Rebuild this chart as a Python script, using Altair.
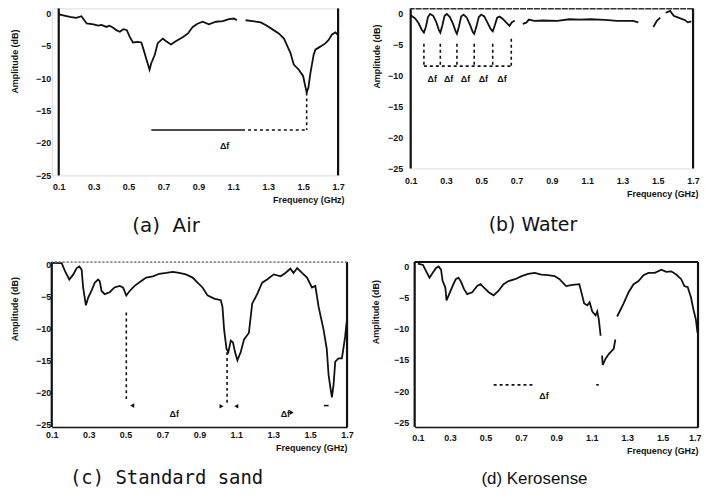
import altair as alt
import pandas as pd

# ---------------- data ----------------
x_range = [0.1, 1.7]
x_ticks = [0.1, 0.3, 0.5, 0.7, 0.9, 1.1, 1.3, 1.5, 1.7]
y_ticks = [0, -5, -10, -15, -20, -25]

air_y = [-25, 0.76]
water_y = [-25, 0.8]
sand_y = [-25.46, 0.46]
kero_y = [-25.78, 0.78]

# (frequency GHz, amplitude dB); None = gap in the trace
air = [(0.1, 0), (0.107, -0.2), (0.164, -0.56), (0.2, -0.7), (0.23, -0.45), (0.26, -1.57),
       (0.3, -1.7), (0.326, -1.9), (0.345, -1.8), (0.373, -2.1), (0.39, -1.9), (0.41, -2.2),
       (0.43, -2.6), (0.45, -2.85), (0.47, -2.45), (0.49, -2.6), (0.506, -3.6), (0.525, -4.5),
       (0.554, -4.4), (0.573, -4.5), (0.586, -5.6), (0.6, -6.9), (0.62, -8.7), (0.63, -7.7),
       (0.65, -6.4), (0.667, -4.6), (0.696, -3.9), (0.715, -4.3), (0.743, -4.8), (0.77, -4.3),
       (0.81, -3.7), (0.84, -3.1), (0.867, -2.1), (0.895, -1.6), (0.924, -1.3), (0.96, -1.7),
       (1.0, -1.3), (1.04, -1.2), (1.075, -0.9), (1.104, -0.8), (1.12, -1.07), None,
       (1.17, -1.07), (1.21, -1.2), (1.257, -1.4), (1.285, -1.8), (1.32, -2.4), (1.36, -3.1),
       (1.39, -3.9), (1.41, -5.1), (1.427, -6.1), (1.446, -7.9), (1.475, -8.7), (1.5, -9.7),
       (1.51, -11.0), (1.52, -12.2), (1.53, -11.5), (1.54, -9.45), (1.55, -7.9), (1.56, -6.4),
       (1.57, -5.6), (1.6, -5.1), (1.628, -4.6), (1.646, -4.1), (1.665, -3.25), (1.685, -2.95),
       (1.7, -3.35)]

water = [(0.1, -0.3), (0.11, -0.5), (0.125, -0.8), (0.145, -1.6), (0.162, -2.6), (0.175, -3.1),
         (0.186, -2.2), (0.198, -0.6), (0.21, -0.1), (0.228, -0.4), (0.245, -1.4), (0.26, -2.7),
         (0.268, -3.1), (0.279, -2.0), (0.292, -0.4), (0.305, -0.1), (0.322, -0.6), (0.34, -1.7),
         (0.355, -2.9), (0.362, -3.3), (0.373, -2.2), (0.386, -0.5), (0.4, -0.2), (0.418, -0.7),
         (0.437, -1.9), (0.452, -3.0), (0.46, -3.3), (0.471, -2.3), (0.486, -0.6), (0.5, -0.2),
         (0.517, -0.5), (0.535, -1.5), (0.555, -2.6), (0.565, -2.9), (0.576, -2.0), (0.59, -0.7),
         (0.604, -0.5), (0.622, -0.9), (0.642, -1.5), (0.66, -2.0), (0.675, -1.4), (0.69, -1.2),
         None, (0.735, -1.7), (0.755, -1.5), (0.77, -1.0), (0.8, -1.2), (0.85, -1.15),
         (0.93, -1.2), (1.0, -0.95), (1.06, -1.0), (1.12, -0.95), (1.2, -1.05), (1.27, -1.2),
         (1.36, -1.2), (1.39, -1.45), None, (1.475, -2.2), (1.495, -1.2), (1.514, -0.7), None,
         (1.545, 0.1), (1.57, 0.4), (1.59, -0.4), (1.617, -0.7), (1.655, -1.1), (1.67, -1.45),
         (1.69, -1.3)]

sand = [(0.102, 0.3), (0.154, 0.26), (0.172, -1.0), (0.195, -2.3), (0.217, -1.5), (0.235, -0.5),
        (0.249, -0.25), (0.262, -0.76), (0.27, -3.55), (0.285, -6.35), (0.298, -5.1),
        (0.315, -4.1), (0.333, -2.8), (0.351, -2.3), (0.36, -2.55), (0.37, -4.1), (0.387, -4.6),
        (0.414, -4.3), (0.44, -3.55), (0.468, -3.3), (0.486, -3.55), (0.504, -4.8),
        (0.522, -4.1), (0.549, -3.3), (0.585, -2.55), (0.612, -2.0), (0.648, -1.8),
        (0.683, -1.4), (0.72, -1.27), (0.756, -1.1), (0.79, -1.27), (0.827, -1.5), (0.863, -2.0),
        (0.89, -2.8), (0.917, -3.55), (0.944, -4.8), (0.98, -5.3), (1.016, -5.55), (1.025, -6.6),
        (1.034, -10.2), (1.047, -13.2), (1.057, -13.7), (1.07, -11.9), (1.082, -12.2),
        (1.093, -13.7), (1.106, -15.0), (1.124, -13.7), (1.142, -11.7), (1.168, -10.7),
        (1.186, -6.1), (1.213, -4.6), (1.24, -2.8), (1.267, -2.3), (1.303, -1.5), (1.34, -1.8),
        (1.366, -1.27), (1.393, -0.6), (1.41, -1.27), (1.43, -0.5), (1.456, -1.27), (1.483, -2.0),
        (1.51, -3.55), (1.528, -3.3), (1.546, -6.6), (1.573, -10.2), (1.59, -13.2), (1.6, -17.3),
        (1.61, -19.3), (1.618, -20.8), (1.627, -18.8), (1.636, -15.2), (1.654, -14.7),
        (1.672, -14.7), (1.68, -13.2), (1.69, -11.2), (1.698, -9.0)]

kero = [(0.118, 0.5), (0.147, 0.3), (0.165, -0.73), (0.184, -1.77), (0.202, -0.98), (0.221, -0.2),
        (0.235, 0.05), (0.249, -0.47), (0.258, -2.3), (0.273, -3.3), (0.28, -5.4), (0.295, -4.4),
        (0.314, -3.1), (0.332, -2.0), (0.347, -1.77), (0.36, -2.3), (0.379, -3.6), (0.397, -4.4),
        (0.425, -4.1), (0.453, -3.1), (0.472, -2.8), (0.49, -3.3), (0.518, -4.1), (0.546, -4.6),
        (0.574, -3.85), (0.602, -2.8), (0.63, -2.3), (0.667, -2.0), (0.704, -1.5), (0.741, -1.15),
        (0.778, -0.98), (0.815, -1.25), (0.852, -1.35), (0.89, -1.5), (0.918, -2.0), (0.955, -3.1),
        (0.992, -2.9), (1.03, -2.8), (1.044, -4.4), (1.057, -5.9), (1.075, -6.2), (1.088, -5.7),
        (1.103, -7.2), (1.122, -7.8), (1.131, -7.2), (1.14, -8.5), (1.15, -11.1), None,
        (1.158, -14.3), (1.162, -15.8), (1.178, -14.8), (1.197, -14.0), (1.224, -13.2),
        (1.233, -11.7), None, (1.243, -8.0), (1.261, -7.0), (1.28, -5.9), (1.308, -4.1),
        (1.336, -2.8), (1.364, -2.3), (1.392, -1.35), (1.42, -0.98), (1.456, -0.98),
        (1.493, -0.47), (1.52, -0.83), (1.549, -0.73), (1.577, -1.25), (1.605, -2.0),
        (1.623, -3.1), (1.642, -3.3), (1.66, -4.9), (1.675, -7.0), (1.688, -8.5), (1.697, -10.6)]

# annotation rules: (f, f2, a, a2)
air_solid = [(0.63, 1.15, -18, -18)]
air_dashed = [(1.15, 1.52, -18, -18), (1.52, 1.52, -12.2, -18)]
air_text = [(1.05, -20.4, "Δf")]

water_solid = []
water_dashed = [(0.175, 0.67, -8.5, -8.5), (0.175, 0.175, -4.9, -8.5), (0.268, 0.268, -4.9, -8.5),
                (0.362, 0.362, -4.9, -8.5), (0.46, 0.46, -4.9, -8.5), (0.565, 0.565, -4.9, -8.5),
                (0.67, 0.67, -4.1, -8.5)]
water_text = [(0.222, -10.6, "Δf"), (0.315, -10.6, "Δf"), (0.411, -10.6, "Δf"),
              (0.512, -10.6, "Δf"), (0.617, -10.6, "Δf")]

sand_solid = [(1.575, 1.6, -22.1, -22.1)]
sand_dashed = [(0.504, 0.504, -7.5, -21.5), (1.05, 1.05, -13.7, -22.1)]
sand_text = [(0.764, -23.4, "Δf"), (1.366, -23.4, "Δf")]
sand_arrows = [(0.536, -22.1, "triangle-left"), (1.02, -22.2, "triangle-right"),
               (1.1, -22.2, "triangle-left"), (1.4, -23.2, "triangle-right")]

kero_solid = [(1.125, 1.14, -19, -19)]
kero_dashed = [(0.546, 0.77, -19, -19)]
kero_text = [(0.83, -20.8, "Δf")]

# ---------------- chart ----------------
FONT = "Liberation Sans"
INK = "#111111"


def line_table(points):
    rows, seg = [], 0
    for p in points:
        if p is None:
            seg += 1
            continue
        rows.append({"f": p[0], "a": p[1], "seg": seg})
    return pd.DataFrame(rows)


def rule_table(rules):
    return pd.DataFrame(rules, columns=["f", "f2", "a", "a2"])


def panel(points, y_dom, x_dom, caption, cap_font, cap_size, width, height, label_pad, title_pad,
          title_y, x_label_pad, x_title_x, x_line, top_style, solid, dashed, texts, cap_dx,
          cap_offset, arrows=None, flush=False):
    xs = alt.Scale(domain=x_dom, nice=False, zero=False)
    ys = alt.Scale(domain=y_dom, nice=False, zero=False)
    xax = alt.Axis(values=x_ticks, format=".1f", title="Frequency (GHz)", titleAnchor="end",
                   titleAlign="right", titleX=width + x_title_x, grid=False, ticks=False,
                   domain=x_line, domainColor=INK, domainWidth=1.5, labelFont=FONT,
                   labelFontSize=9, labelFontWeight="bold", labelColor=INK,
                   labelPadding=x_label_pad, titleFont=FONT, titleFontSize=9,
                   titleFontWeight="bold", titleColor=INK, titlePadding=4, labelFlush=flush,
                   labelFlushOffset=3 if flush else 0)
    yax = alt.Axis(values=y_ticks, title="Amplitude (dB)", grid=False, ticks=False,
                   domain=False, labelFont=FONT, labelFontSize=9,
                   labelFontWeight="bold", labelColor=INK, labelPadding=label_pad,
                   titleFont=FONT, titleFontSize=9, titleFontWeight="bold", titleColor=INK,
                   titlePadding=title_pad, titleY=title_y)
    X = alt.X("f:Q", scale=xs, axis=xax)
    Y = alt.Y("a:Q", scale=ys, axis=yax)

    layers = [alt.Chart(line_table(points)).mark_line(color=INK, strokeWidth=1.8).encode(
        x=X, y=Y, detail="seg:N")]
    # left (amplitude axis line) and right frame edges at the ends of the frequency range
    layers.append(alt.Chart(pd.DataFrame({"f": x_range})).mark_rule(
        color=INK, strokeWidth=2.2).encode(x=X))
    if top_style is not None:
        layers.append(alt.Chart(pd.DataFrame({"a": [y_dom[1]]})).mark_rule(
            color=top_style[0], strokeWidth=top_style[1], strokeDash=top_style[2]).encode(y=Y))
    if solid:
        layers.append(alt.Chart(rule_table(solid)).mark_rule(color=INK, strokeWidth=1.6).encode(
            x=X, x2="f2:Q", y=Y, y2="a2:Q"))
    if dashed:
        layers.append(alt.Chart(rule_table(dashed)).mark_rule(
            color=INK, strokeWidth=1.6, strokeDash=[3, 3]).encode(x=X, x2="f2:Q", y=Y, y2="a2:Q"))
    if texts:
        layers.append(alt.Chart(pd.DataFrame(texts, columns=["f", "a", "t"])).mark_text(
            font=FONT, fontSize=9, fontWeight="bold", color=INK).encode(x=X, y=Y, text="t:N"))
    if arrows:
        layers.append(alt.Chart(pd.DataFrame(arrows, columns=["f", "a", "s"])).mark_point(
            filled=True, color=INK, size=22, opacity=1).encode(
            x=X, y=Y, shape=alt.Shape("s:N", scale=None)))
    return alt.layer(*layers).properties(
        width=width, height=height,
        title=alt.TitleParams(caption, orient="bottom", anchor="middle", font=cap_font,
                              fontSize=cap_size, fontWeight="normal", color=INK, dx=cap_dx,
                              offset=cap_offset))


# panel (a) sits 7 px further right than (c) in the figure: widen its frequency scale slightly
air_x = [x_range[0] - 0.04, x_range[1]]

pa = panel(air, air_y, air_x, "(a)\u00a0\u00a0Air", "DejaVu Sans", 20, 288, 168, 1, 16, 53, 7,
           6, False, None, air_solid, air_dashed, air_text, -29, 12)
pb = panel(water, water_y, x_range, "(b) Water", "DejaVu Sans", 19, 284, 161, 8, 6, 48, 8, 5,
           False, ("#333", 2, [6, 1]), water_solid, water_dashed, water_text, -19, 18)
pc = panel(sand, sand_y, x_range, "(c) Standard sand", "DejaVu Sans Mono", 19, 297, 166, 1, 16,
           47, 4, 0, True, ("#777", 1.5, [2, 2]), sand_solid, sand_dashed, sand_text, -33, 16,
           sand_arrows)
pd_ = panel(kero, kero_y, x_range, "(d) Kerosense", "Liberation Sans", 17, 285, 166, 6, 13, 50,
            7, 0, True, (INK, 2, [1, 0]), kero_solid, kero_dashed, kero_text, -22, 15,
            flush=True)

chart = alt.vconcat(
    alt.hconcat(pa, pb, spacing=27),
    alt.hconcat(pc, pd_, spacing=17),
    spacing=21,
).properties(
    padding={"left": 2, "top": -3, "right": 0, "bottom": 0}
).configure_view(strokeWidth=0).configure(background="white")

chart.save("out.html", embed_options={"renderer": "svg", "actions": False})
